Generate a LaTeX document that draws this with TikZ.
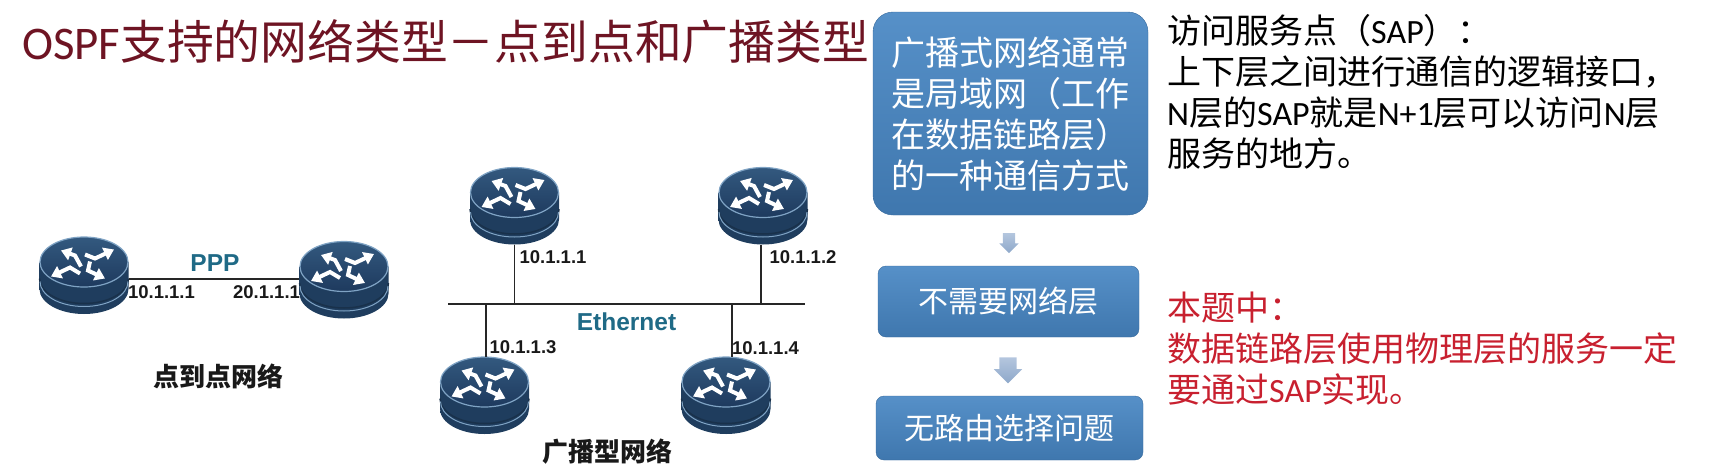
\documentclass[tikz,border=0pt]{standalone}
\usepackage{fontspec}
\setmainfont{Noto Sans CJK SC}
\newfontfamily\latinfont{Carlito}
\newfontfamily\addrfont{Liberation Sans}
\usetikzlibrary{arrows.meta,shapes.arrows}
\definecolor{titlered}{HTML}{6E1423}
\definecolor{notered}{HTML}{C8202F}
\definecolor{netteal}{HTML}{1F6A86}
\definecolor{blue1}{HTML}{5690C8}
\definecolor{blue2}{HTML}{3F77AE}
\definecolor{arrow1}{HTML}{B4C6DE}
\definecolor{arrow2}{HTML}{8EA8CA}
\definecolor{rdark}{HTML}{1F3D5E}
\definecolor{rmid}{HTML}{6E93B5}
\definecolor{rlight}{HTML}{7FA3C4}
\definecolor{rface}{HTML}{33597F}
\definecolor{rface2}{HTML}{1E3A5E}
\tikzset{
    routerbox/.style={minimum width=89pt, minimum height=77pt, inner sep=0pt},
    link/.style={draw=black!85, line width=1.8pt},
    addr/.style={font=\addrfont\bfseries\fontsize{18.5}{22}\selectfont, inner sep=0pt, text=black!90},
    netname/.style={font=\addrfont\bfseries\fontsize{24.5}{28}\selectfont, inner sep=0pt, text=netteal},
    caption/.style={font=\bfseries\fontsize{26}{30}\selectfont, inner sep=0pt, text=black!90},
    bluebox/.style={rounded corners=8pt, top color=blue1, bottom color=blue2, draw=blue2!90!black,
        text=white, align=center, inner sep=0pt, font=\fontsize{30}{36}\selectfont},
    stepdown/.style={single arrow, shape border rotate=270, inner sep=0pt, top color=arrow1, bottom color=arrow2,
        single arrow head extend=#1},
    sidetext/.style={anchor=north west, align=left, inner sep=0pt, font=\fontsize{34}{41}\selectfont},
    pics/router/.style={code={
        \shade[left color=rdark, middle color=rmid, right color=rdark]
            (-44.5,-13.5) -- (-44.5,13.5) .. controls (-44.5,27.3) and (-24.6,38.5) .. (0,38.5)
            .. controls (24.6,38.5) and (44.5,27.3) .. (44.5,13.5) -- (44.5,-13.5) -- cycle;
        \draw[rdark!80!black, line width=1.5pt] (-44.5,3) .. controls (-44.5,16.8) and (-24.6,28) .. (0,28)
            .. controls (24.6,28) and (44.5,16.8) .. (44.5,3);
        \draw[rlight, line width=1pt] (-44,6) .. controls (-44,19.8) and (-24.6,31) .. (0,31)
            .. controls (24.6,31) and (44,19.8) .. (44,6);
        \draw[rlight, line width=1.2pt, top color=rface, bottom color=rface2] (0,-13.5) ellipse [x radius=44pt, y radius=25pt];
        \foreach \pa/\pb/\pc in {{1,-21}/{11,-17}/{30,-26}, {-3,-9}/{-9,-20}/{-23,-25},
            {-4,-2}/{-14,-8}/{-33,1}, {6,-14}/{4,-5}/{21,3}}{
            \draw[white, line width=4pt, -{Triangle[width=13pt,length=10pt]}] (\pa) -- (\pb) -- (\pc);}
        \node[routerbox] (-box) at (0,0) {};
    }}
}
\begin{document}
\begin{tikzpicture}[x=1pt, y=-1pt]
    \useasboundingbox (0,0) rectangle (1718,466);

    % title
    \node[anchor=west, inner sep=0pt, text=titlered, font=\fontsize{46.8}{50}\selectfont] (title) at (22,42)
        {{\latinfont OSPF}支持的网络类型－点到点和广播类型};

    % point to point
    \pic (ra) at (84,275.5) {router};
    \pic (rb) at (344,280) {router};
    \coordinate (pppline) at (200,279);
    \draw[link] (pppline -| ra-box.east) -- (pppline -| rb-box.west);
    \node[netname] (ppp) at (215,263) {PPP};
    \node[addr] (addra) at (161.5,292) {10.1.1.1};
    \node[addr] (addrb) at (266.5,292) {20.1.1.1};
    \node[caption] (ptp) at (218,376) {点到点网络};

    % broadcast
    \pic (rc) at (514.5,206) {router};
    \pic (rd) at (763,206) {router};
    \pic (re) at (484.5,395.5) {router};
    \pic (rf) at (726,395.5) {router};
    \coordinate (busl) at (448,304);
    \coordinate (busr) at (805,304);
    \draw[link] (busl) -- (busr);
    \draw[link] (rc-box.south) -- (rc-box.south |- busl);
    \draw[link] ([xshift=-2pt]rd-box.south) -- ([xshift=-2pt]rd-box.south |- busl);
    \draw[link] ([xshift=1.5pt]re-box.north) -- ([xshift=1.5pt]re-box.north |- busl);
    \draw[link] ([xshift=6pt]rf-box.north) -- ([xshift=6pt]rf-box.north |- busl);
    \node[addr] (addrc) at (553,257) {10.1.1.1};
    \node[addr] (addrd) at (803,257) {10.1.1.2};
    \node[addr] (addre) at (523,347) {10.1.1.3};
    \node[addr] (addrf) at (765.5,348) {10.1.1.4};
    \node[netname] (ether) at (626.5,322) {Ethernet};
    \node[caption] (bcast) at (607.5,452) {广播型网络};

    % blue boxes
    \node[bluebox, rounded corners=20pt, minimum width=275pt, minimum height=203pt,
        font=\fontsize{34}{41}\selectfont] (lan) at (1010.5,113.5)
        {广播式网络通常\\是局域网（工作\\在数据链路层）\\的一种通信方式};
    \node[bluebox, minimum width=261pt, minimum height=71pt] (nonet) at (1008.5,301.5) {不需要网络层};
    \node[bluebox, minimum width=267pt, minimum height=64pt] (noroute) at (1009.5,428) {无路由选择问题};
    \node[stepdown=3.5pt, minimum height=20pt, text width=12pt] (stepa) at (1009,240) {};
    \node[stepdown=5.5pt, minimum height=26pt, text width=17pt] (stepb) at (1008,366) {};

    % notes
    \node[sidetext] (sap) at (1167,14)
        {访问服务点（{\latinfont SAP}）：\\
         上下层之间进行通信的逻辑接口，\\
         {\latinfont N}层的{\latinfont SAP}就是{\latinfont N+1}层可以访问{\latinfont N}层\\
         服务的地方。};
    \node[sidetext, text=notered] (here) at (1167,292)
        {本题中：\\
         数据链路层使用物理层的服务一定\\
         要通过{\latinfont SAP}实现。};
\end{tikzpicture}
\end{document}
